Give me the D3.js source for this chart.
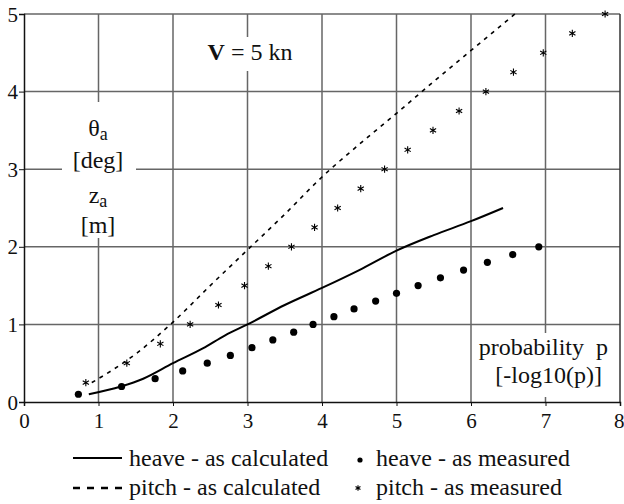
<!DOCTYPE html>
<html>
<head>
<meta charset="utf-8">
<script src="https://cdn.jsdelivr.net/npm/d3@7.9.0/dist/d3.min.js"></script>
<style>
  body { margin: 0; background: #fff; }
</style>
</head>
<body>
<div id="vis"></div>
<script>
// values
const xTicks = [0, 1, 2, 3, 4, 5, 6, 7, 8];
const yTicks = [0, 1, 2, 3, 4, 5];

const heaveCalc = [
  [0.87, 0.1], [1.3, 0.2], [1.6, 0.3], [2.0, 0.5], [2.4, 0.69], [2.7, 0.86],
  [3.0, 1.0], [3.5, 1.25], [4.0, 1.47], [4.5, 1.7], [5.0, 1.95], [5.5, 2.15],
  [6.0, 2.33], [6.43, 2.5]
];
const pitchCalc = [
  [0.91, 0.25], [1.2, 0.42], [1.5, 0.62], [2.0, 1.03], [2.5, 1.5], [3.0, 1.96],
  [3.5, 2.42], [4.0, 2.9], [4.5, 3.32], [5.0, 3.72], [5.5, 4.13], [6.0, 4.53],
  [6.59, 5.0]
];
const heaveMeas = [
  [0.73, 0.1], [1.31, 0.2], [1.76, 0.3], [2.13, 0.4], [2.46, 0.5], [2.77, 0.6],
  [3.06, 0.7], [3.34, 0.8], [3.62, 0.9], [3.88, 1.0], [4.16, 1.1], [4.43, 1.2],
  [4.72, 1.3], [5.0, 1.4], [5.29, 1.5], [5.59, 1.6], [5.9, 1.7], [6.22, 1.8],
  [6.56, 1.9], [6.91, 2.0]
];
const pitchMeas = [
  [0.83, 0.25], [1.38, 0.5], [1.83, 0.75], [2.23, 1.0], [2.61, 1.25], [2.96, 1.5],
  [3.28, 1.75], [3.59, 2.0], [3.9, 2.25], [4.21, 2.5], [4.52, 2.75], [4.84, 3.0],
  [5.15, 3.25], [5.49, 3.5], [5.84, 3.75], [6.2, 4.0], [6.57, 4.25], [6.97, 4.5],
  [7.36, 4.75], [7.8, 5.0]
];

const width = 624;
const height = 504;
const serif = "'Liberation Serif', 'Times New Roman', serif";
const xScale = d3.scaleLinear().domain([0, 8]).range([24, 620]);
const yScale = d3.scaleLinear().domain([0, 5]).range([402, 14]);

const svg = d3
  .select("#vis")
  .append("svg")
  .attr("width", width)
  .attr("height", height)
  .attr("font-family", serif);

svg.append("rect").attr("width", width).attr("height", height).attr("fill", "#fff");

// gridlines
svg
  .append("g")
  .selectAll("line")
  .data(xTicks.slice(1, -1))
  .enter()
  .append("line")
  .attr("x1", (d) => xScale(d))
  .attr("x2", (d) => xScale(d))
  .attr("y1", yScale(0))
  .attr("y2", yScale(5))
  .attr("stroke", "#666")
  .attr("stroke-width", 1.5);

svg
  .append("g")
  .selectAll("line")
  .data(yTicks.slice(1))
  .enter()
  .append("line")
  .attr("x1", xScale(0))
  .attr("x2", xScale(8))
  .attr("y1", (d) => yScale(d))
  .attr("y2", (d) => yScale(d))
  .attr("stroke", "#666")
  .attr("stroke-width", 1.5);

// right border
svg
  .append("line")
  .attr("x1", xScale(8))
  .attr("x2", xScale(8))
  .attr("y1", yScale(0))
  .attr("y2", yScale(5))
  .attr("stroke", "#333")
  .attr("stroke-width", 1.5);

// white boxes behind the labels
const boxes = [
  [204, 37, 92, 34],
  [62, 102, 74, 136],
  [475, 333, 137, 64]
];
svg
  .append("g")
  .selectAll("rect")
  .data(boxes)
  .enter()
  .append("rect")
  .attr("x", (d) => d[0])
  .attr("y", (d) => d[1])
  .attr("width", (d) => d[2])
  .attr("height", (d) => d[3])
  .attr("fill", "#fff");

// axes
const xAxis = svg
  .append("g")
  .attr("transform", `translate(0,${yScale(0)})`)
  .call(d3.axisBottom(xScale).tickValues(xTicks).tickSize(4).tickPadding(7).tickFormat(d3.format("d")));
const yAxis = svg
  .append("g")
  .attr("transform", `translate(${xScale(0)},0)`)
  .call(d3.axisLeft(yScale).tickValues(yTicks).tickSize(5).tickPadding(1).tickFormat(d3.format("d")));

[xAxis, yAxis].forEach((ax) => {
  ax.attr("font-family", serif).attr("font-size", 21);
  ax.select(".domain").attr("stroke", "#111").attr("stroke-width", 1.5);
  ax.selectAll(".tick line").attr("stroke", "#111");
  ax.selectAll("text").attr("fill", "#111");
});
yAxis.selectAll("text").attr("dy", "0.34em");
// last label sits against the page edge
xAxis.selectAll(".tick text").filter((d) => d === 8).attr("text-anchor", "end").attr("x", 4);

// lines
const line = d3
  .line()
  .x((d) => xScale(d[0]))
  .y((d) => yScale(d[1]))
  .curve(d3.curveMonotoneX);

svg
  .append("path")
  .attr("fill", "none")
  .attr("stroke", "#000")
  .attr("stroke-width", 2)
  .attr("d", line(heaveCalc));

svg
  .append("path")
  .attr("fill", "none")
  .attr("stroke", "#000")
  .attr("stroke-width", 1.6)
  .attr("stroke-dasharray", "4,5")
  .attr("d", line(pitchCalc));

// markers
svg
  .append("g")
  .selectAll("circle")
  .data(heaveMeas)
  .enter()
  .append("circle")
  .attr("cx", (d) => xScale(d[0]))
  .attr("cy", (d) => yScale(d[1]))
  .attr("r", 3.6)
  .attr("fill", "#000");

const star = d3.symbol().type(d3.symbolAsterisk).size(36);
svg
  .append("g")
  .selectAll("path")
  .data(pitchMeas)
  .enter()
  .append("path")
  .attr("transform", (d) => `translate(${xScale(d[0])},${yScale(d[1])})`)
  .attr("d", star)
  .attr("fill", "none")
  .attr("stroke", "#000")
  .attr("stroke-width", 1.1);

// labels
const lab = svg.append("g").attr("fill", "#111").attr("font-size", 24);
const V = lab.append("text").attr("x", 250).attr("y", 60).attr("text-anchor", "middle");
V.append("tspan").attr("font-weight", "bold").text("V");
V.append("tspan").text(" = 5 kn");

const th = lab.append("text").attr("x", 98).attr("y", 136).attr("text-anchor", "middle");
th.append("tspan").text("θ");
th.append("tspan").attr("dy", 4).attr("font-size", 18).text("a");
lab.append("text").attr("x", 98).attr("y", 168).attr("text-anchor", "middle").text("[deg]");

const za = lab.append("text").attr("x", 98).attr("y", 203).attr("text-anchor", "middle");
za.append("tspan").text("z");
za.append("tspan").attr("dy", 4).attr("font-size", 18).text("a");
lab.append("text").attr("x", 98).attr("y", 233).attr("text-anchor", "middle").text("[m]");

lab.append("text").attr("x", 608).attr("y", 355).attr("text-anchor", "end").attr("xml:space", "preserve").text("probability  p");
lab.append("text").attr("x", 602).attr("y", 383).attr("text-anchor", "end").text("[-log10(p)]");

// legend
const lg = svg.append("g").attr("font-size", 24).attr("fill", "#111");
lg.append("line").attr("x1", 73).attr("x2", 122).attr("y1", 458).attr("y2", 458).attr("stroke", "#000").attr("stroke-width", 2);
lg.append("text").attr("x", 129).attr("y", 466).text("heave - as calculated");
lg.append("line").attr("x1", 73).attr("x2", 122).attr("y1", 488).attr("y2", 488).attr("stroke", "#000").attr("stroke-width", 2.5).attr("stroke-dasharray", "7,7");
lg.append("text").attr("x", 129).attr("y", 495).text("pitch - as calculated");
lg.append("circle").attr("cx", 360).attr("cy", 460).attr("r", 2.6).attr("fill", "#000");
lg.append("text").attr("x", 376).attr("y", 466).text("heave - as measured");
lg.append("path").attr("transform", "translate(358,488)").attr("d", d3.symbol().type(d3.symbolAsterisk).size(22)).attr("fill", "none").attr("stroke", "#000").attr("stroke-width", 1.1);
lg.append("text").attr("x", 376).attr("y", 495).text("pitch - as measured");
</script>
</body>
</html>
